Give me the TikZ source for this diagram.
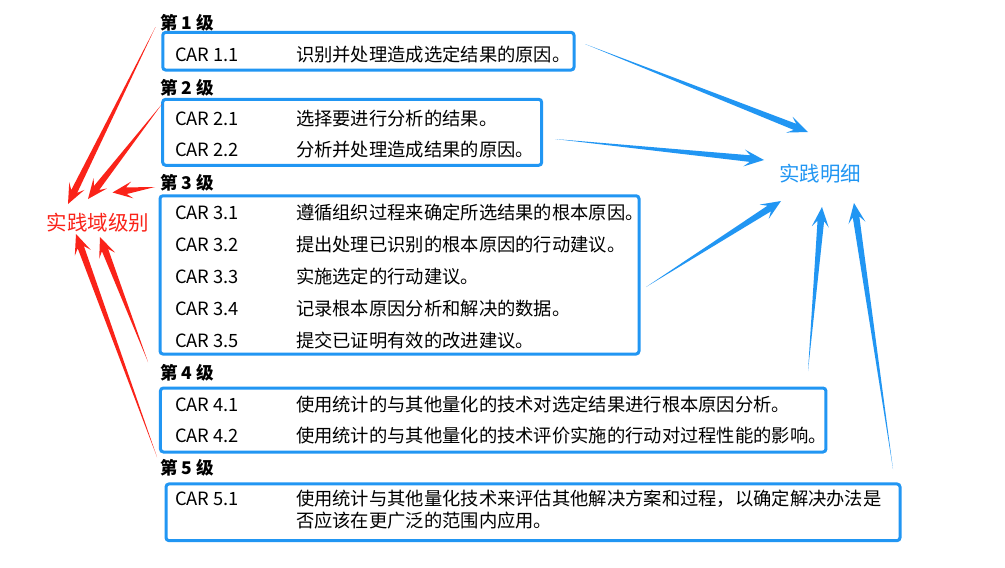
\documentclass[tikz,border=0pt]{standalone}
\usepackage{fontspec}
\setmainfont{Noto Sans CJK SC}
\usetikzlibrary{calc}
\definecolor{boxblue}{RGB}{33,150,243}
\definecolor{arrred}{RGB}{250,35,25}
\newcommand\taperarrow[3]{%
  \path ($(#2)!14pt!(#1)$) coordinate (tmpN) ($(#2)!20pt!(#1)$) coordinate (tmpB);
  \fill[#3] (#1) -- ($(tmpN)!3.3pt!90:(#2)$) -- ($(tmpB)!8.5pt!90:(#2)$) -- (#2)
    -- ($(tmpB)!8.5pt!-90:(#2)$) -- ($(tmpN)!3.3pt!-90:(#2)$) -- cycle;}
\begin{document}
\begin{tikzpicture}[x=1pt,y=-1pt,
  every node/.style={inner sep=0pt, outer sep=0pt},
  carbox/.style={draw=boxblue, line width=3pt, rounded corners=3pt},
  rowtxt/.style={anchor=base west, font=\fontsize{18.3}{20}\selectfont, text=black},
  lvl/.style={anchor=base west, font=\bfseries\fontsize{17.5}{19}\selectfont, text=black},
  bigtxt/.style={font=\fontsize{20.5}{22}\selectfont}]
\fill[white] (0,0) rectangle (1005,568);
\useasboundingbox (0,0) rectangle (1005,568);

% boxes
\node[carbox, minimum width=411.3pt, minimum height=37.7pt] (box1) at (368.4,51.2) {};
\node[carbox, minimum width=379pt, minimum height=66pt] (box2) at (352.2,132.3) {};
\node[carbox, minimum width=479pt, minimum height=158.3pt] (box3) at (399.5,274.9) {};
\node[carbox, minimum width=665.5pt, minimum height=64pt] (box4) at (493.2,420) {};
\node[carbox, minimum width=734pt, minimum height=56.7pt] (box5) at (533,512.3) {};

% level labels
\node[lvl] (lv1) at (160,29.5) {第 1 级};
\node[lvl] (lv2) at (160,94.5) {第 2 级};
\node[lvl] (lv3) at (160,189.5) {第 3 级};
\node[lvl] (lv4) at (160,379.5) {第 4 级};
\node[lvl] (lv5) at (160,474.5) {第 5 级};

% rows
\node[rowtxt] (c11) at (175,61.5) {CAR 1.1};
\node[rowtxt] (t11) at (296,61.5) {识别并处理造成选定结果的原因。};
\node[rowtxt] (c21) at (175,125.5) {CAR 2.1};
\node[rowtxt] (t21) at (296,125.5) {选择要进行分析的结果。};
\node[rowtxt] (c22) at (175,156.5) {CAR 2.2};
\node[rowtxt] (t22) at (296,156.5) {分析并处理造成结果的原因。};
\node[rowtxt] (c31) at (175,219.5) {CAR 3.1};
\node[rowtxt] (t31) at (296,219.5) {遵循组织过程来确定所选结果的根本原因。};
\node[rowtxt] (c32) at (175,251.5) {CAR 3.2};
\node[rowtxt] (t32) at (296,251.5) {提出处理已识别的根本原因的行动建议。};
\node[rowtxt] (c33) at (175,283.5) {CAR 3.3};
\node[rowtxt] (t33) at (296,283.5) {实施选定的行动建议。};
\node[rowtxt] (c34) at (175,315.5) {CAR 3.4};
\node[rowtxt] (t34) at (296,315.5) {记录根本原因分析和解决的数据。};
\node[rowtxt] (c35) at (175,347.5) {CAR 3.5};
\node[rowtxt] (t35) at (296,347.5) {提交已证明有效的改进建议。};
\node[rowtxt] (c41) at (175,411.5) {CAR 4.1};
\node[rowtxt] (t41) at (296,411.5) {使用统计的与其他量化的技术对选定结果进行根本原因分析。};
\node[rowtxt] (c42) at (175,442.5) {CAR 4.2};
\node[rowtxt] (t42) at (296,442.5) {使用统计的与其他量化的技术评价实施的行动对过程性能的影响。};
\node[rowtxt] (c51) at (175,505.5) {CAR 5.1};
\node[rowtxt] (t51) at (296,505.5) {使用统计与其他量化技术来评估其他解决方案和过程，以确定解决办法是};
\node[rowtxt] (t51b) at (296,527.5) {否应该在更广泛的范围内应用。};

% side titles
\node[bigtxt, text=arrred] (dom) at (98,223) {实践域级别};
\node[bigtxt, text=boxblue] (pd) at (820,174) {实践明细};

% red arrow ends
\coordinate (r1s) at (155.5,27);  \coordinate (r1e) at (68,204);
\coordinate (r2s) at (162,104);   \coordinate (r2e) at (88,199);
\coordinate (r3s) at (155,187);   \coordinate (r3e) at (112.5,192.5);
\coordinate (r4s) at (148,362);   \coordinate (r4e) at (100,237);
\coordinate (r5s) at (157,457);   \coordinate (r5e) at (76,234);
% blue arrow ends
\coordinate (b1s) at (585,44);    \coordinate (b1e) at (808,132);
\coordinate (b2s) at (555,139);   \coordinate (b2e) at (764,160);
\coordinate (b3s) at (646,287);   \coordinate (b3e) at (781,201);
\coordinate (b4s) at (808,371);   \coordinate (b4e) at (822,207);
\coordinate (b5s) at (893,469);   \coordinate (b5e) at (854,203);

\taperarrow{r1s}{r1e}{arrred}
\taperarrow{r2s}{r2e}{arrred}
\taperarrow{r3s}{r3e}{arrred}
\taperarrow{r4s}{r4e}{arrred}
\taperarrow{r5s}{r5e}{arrred}
\taperarrow{b1s}{b1e}{boxblue}
\taperarrow{b2s}{b2e}{boxblue}
\taperarrow{b3s}{b3e}{boxblue}
\taperarrow{b4s}{b4e}{boxblue}
\taperarrow{b5s}{b5e}{boxblue}
\end{tikzpicture}
\end{document}
